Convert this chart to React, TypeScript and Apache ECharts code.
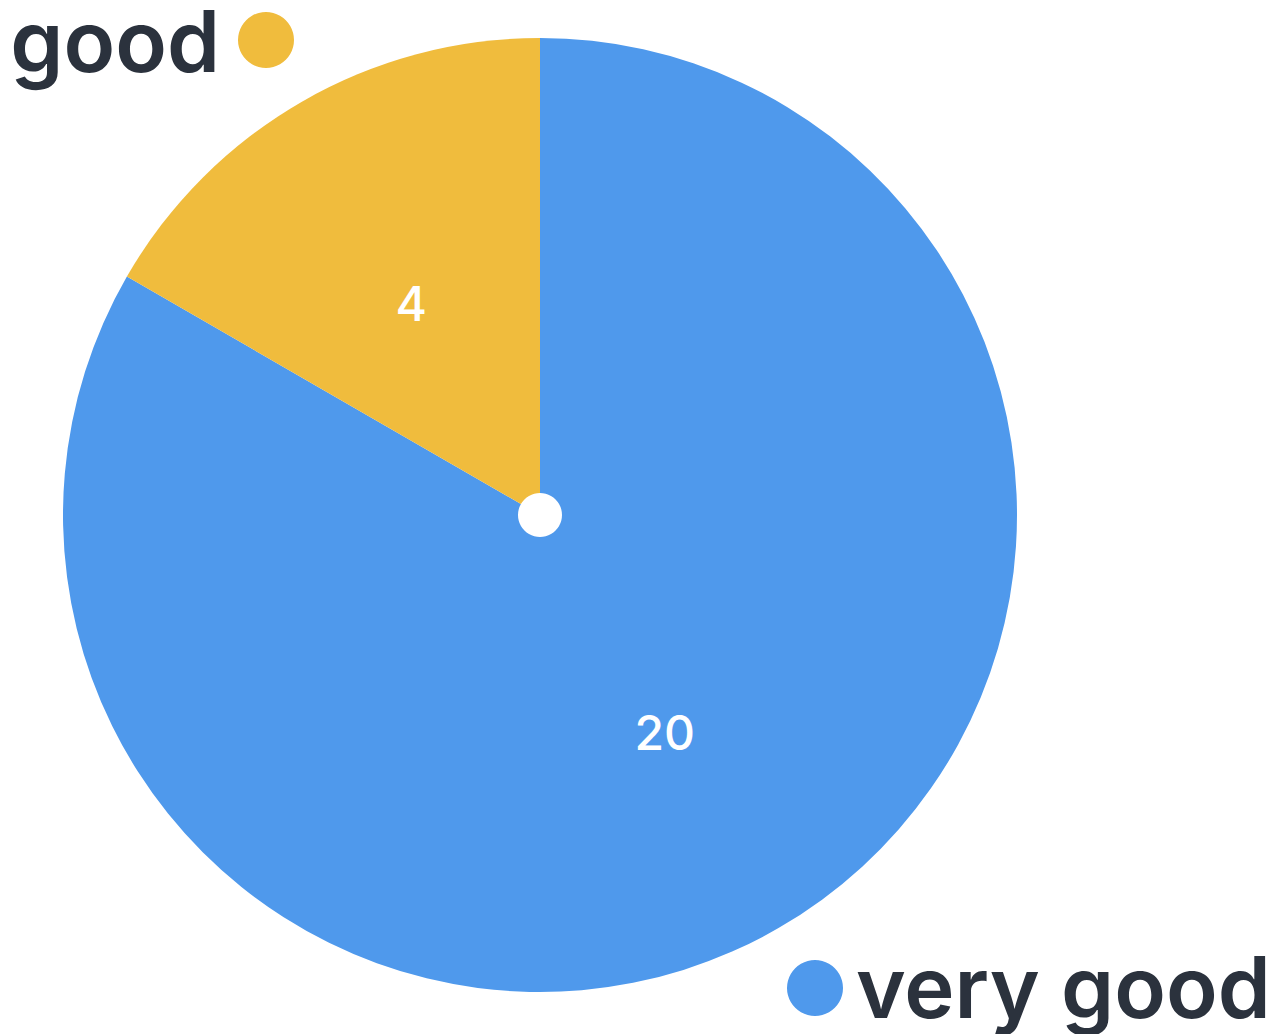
import React, { useEffect, useRef } from "react";
import * as echarts from "echarts";

const categories = ["very good", "good"];
const values = [20, 4];
const colors = ["#4F99EC", "#F0BC3D"];

export default function App() {
  const ref = useRef<HTMLDivElement>(null);
  useEffect(() => {
    if (!ref.current) return;
    const chart = echarts.init(ref.current, undefined, { renderer: "svg" });
    const textColor = "#2B323D";
    const font = "Inter";
    chart.setOption({
      animation: false,
      backgroundColor: "#ffffff",
      series: [
        {
          type: "pie",
          center: [540, 515],
          radius: [0, 477],
          startAngle: 90,
          clockwise: true,
          silent: true,
          label: {
            show: true,
            position: "inside",
            color: "#ffffff",
            fontSize: 48,
            fontFamily: font,
            fontWeight: 500,
            formatter: "{c}",
          },
          labelLine: { show: false },
          itemStyle: { borderWidth: 0 },
          data: categories.map((c, i) => ({
            name: c,
            value: values[i],
            itemStyle: { color: colors[i] },
            label: i === 0 ? { offset: [4, 8] } : { offset: [-8, -2] },
          })),
        },
      ],
      graphic: [
        {
          type: "circle",
          shape: { cx: 540, cy: 515, r: 22 },
          style: { fill: "#ffffff" },
          z: 100,
        },
        {
          type: "text",
          x: 220,
          y: 41,
          style: {
            text: categories[1],
            fill: textColor,
            font: `600 85px ${font}`,
            align: "right",
            verticalAlign: "middle",
          },
        },
        {
          type: "circle",
          shape: { cx: 266, cy: 40, r: 28 },
          style: { fill: colors[1] },
        },
        {
          type: "circle",
          shape: { cx: 815, cy: 988, r: 28 },
          style: { fill: colors[0] },
        },
        {
          type: "text",
          x: 856,
          y: 987,
          style: {
            text: categories[0],
            fill: textColor,
            font: `600 85px ${font}`,
            align: "left",
            verticalAlign: "middle",
          },
        },
      ],
    });
    return () => chart.dispose();
  }, []);
  return (
    <div
      ref={ref}
      style={{ position: "fixed", left: 0, top: 0, width: 1284, height: 1034 }}
    />
  );
}
